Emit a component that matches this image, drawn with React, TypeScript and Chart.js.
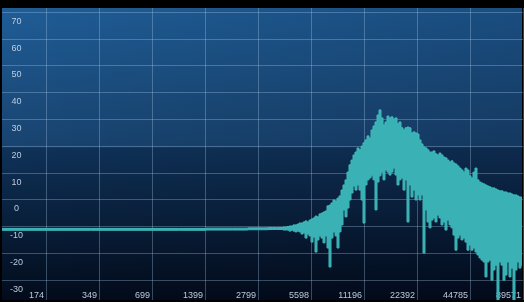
import React, { useEffect, useRef } from "react";
import { Chart, registerables } from "chart.js";

Chart.register(...registerables);

// Axis ticks
const yTickValues = [-30, -20, -10, 0, 10, 20, 30, 40, 50, 60, 70];
const xTickValues = [174.94, 349.89, 699.77, 1399.55, 2799.09, 5598.19, 11196.38, 22392.75, 44785.5, 89571];
const xTickLabels = ["174", "349", "699", "1399", "2799", "5598", "11196", "22392", "44785", "89571"];

// Spectrum: frequency (Hz), upper and lower level (dB)
const freqs = [
  98.4, 1000, 2000, 3000, 3400,
  3732, 3831, 3933, 4037, 4144, 4254, 4366, 4482, 4601, 4723, 4848, 4977, 5108, 5244, 5383, 5525,
  5672, 5822, 5976, 6135, 6297, 6464, 6636, 6811, 6992, 7177, 7367, 7563, 7763, 7969, 8180, 8397,
  8619, 8848, 9082, 9323, 9570, 9823, 10084, 10351, 10625, 10907, 11196, 11493, 11797, 12110, 12431,
  12760, 13098, 13445, 13802, 14167, 14543, 14928, 15324, 15730, 16147, 16575, 17014, 17465, 17927,
  18403, 18890, 19391, 19905, 20432, 20974, 21529, 22100, 22686, 23287, 23904, 24537, 25187, 25855,
  26540, 27243, 27965, 28706, 29467, 30248, 31050, 31872, 32717, 33584, 34474, 35388, 36325, 37288,
  38276, 39290, 40332, 41400, 42497, 43624, 44780, 45966, 47184, 48435, 49718, 51036, 52388, 53777,
  55202, 56665, 58166, 59708, 61290, 62914, 64581, 66293, 68049, 69853, 71704, 73604, 75554, 77557,
  79612, 81722, 83887, 86110, 88392,
];

const upperDb = [
  -10.6, -10.6, -10.5, -10.4, -10.3,
  -10.3, -10.3, -10.1, -10.1, -9.9, -9.7, -9.7, -9.3, -9.3, -9.0, -8.6, -8.6, -8.2, -7.8, -8.2, -7.5,
  -7.1, -6.7, -6.0, -6.3, -5.2, -4.9, -4.5, -4.1, -2.2, -1.9, -1.1, 0.0, -0.4, 0.7, 1.5, 3.7,
  5.6, 7.5, 10.4, 13.1, 14.9, 16.8, 17.9, 19.4, 18.7, 20.1, 21.3, 22.4, 23.9, 23.1, 26.1,
  27.6, 29.1, 31.7, 33.6, 30.6, 28.0, 29.1, 31.3, 30.6, 31.0, 30.2, 30.6, 28.4, 29.1,
  26.9, 26.1, 26.9, 27.2, 26.9, 25.0, 25.4, 25.0, 24.6, 22.4, 20.9, 19.8, 19.4, 18.7,
  17.9, 17.9, 18.3, 17.2, 16.8, 17.5, 16.8, 16.0, 15.7, 14.9, 14.2, 14.6, 13.8, 13.4,
  12.7, 11.9, 11.2, 10.4, 11.9, 11.2, 9.0, 8.2, 10.4, 11.9, 7.5, 6.7, 6.3, 6.0,
  5.6, 5.2, 4.9, 4.5, 4.5, 4.1, 3.7, 3.4, 3.4, 3.0, 3.0, 2.6, 2.6, 2.2,
  1.9, 1.9, 1.5, 1.1, 1.1,
];

const lowerDb = [
  -11.3, -11.3, -11.2, -11.1, -11.0,
  -11.0, -11.0, -11.2, -11.2, -11.2, -11.6, -11.2, -11.6, -11.9, -11.6, -11.9, -12.7, -12.3, -14.2, -12.7, -13.4,
  -15.7, -13.8, -19.4, -14.9, -13.4, -14.2, -16.0, -13.4, -17.9, -25.0, -14.2, -11.9, -13.4, -17.9, -11.9, -9.3,
  -3.7, -6.3, -3.0, 0.0, 2.6, 5.2, 3.7, 5.6, 3.7, 0.0, -8.6, 5.6, 7.5, 8.2, 9.0,
  7.5, -3.7, 6.7, 9.0, 10.4, 7.5, 11.2, 10.4, 9.3, 10.4, 11.9, 9.3, 5.6, 7.5,
  8.2, 3.7, 7.5, -8.2, 5.6, 1.1, 3.7, 0.0, 1.9, 0.0, 1.9, -19.8, -3.7, -8.2,
  -10.4, -7.5, -6.7, -8.2, -5.6, -6.7, -9.3, -8.2, -11.2, -7.5, -9.3, -10.4, -13.1, -18.7,
  -14.2, -13.1, -14.9, -14.2, -15.7, -18.7, -16.8, -18.7, -17.9, -19.4, -20.5, -21.6, -22.4, -23.1,
  -28.7, -23.1, -22.4, -29.9, -26.1, -24.3, -38, -23.1, -24.3, -29.9, -28.0, -23.1, -28.7, -25.4,
  -38, -26.1, -23.1, -25.4, -24.3,
];

const TEAL_LINE = "rgb(64,186,188)";
const TEAL_FILL = "rgb(58,178,181)";
const GRID = "rgba(175,205,235,0.32)";
const LABEL = "rgba(205,216,232,0.92)";

const bgPlugin = {
  id: "spectrumBg",
  beforeDraw(chart: any) {
    const { ctx, chartArea: a, width, height } = chart;
    ctx.save();
    ctx.fillStyle = "#000";
    ctx.fillRect(0, 0, width, height);
    const right = a.right - 1;
    const w = right - a.left;
    const mid = a.top + (a.bottom - a.top) * 0.479;
    let g = ctx.createLinearGradient(0, a.top, 0, mid);
    g.addColorStop(0, "#1f5d97");
    g.addColorStop(1, "#18436f");
    ctx.fillStyle = g;
    ctx.fillRect(a.left, a.top, w, mid - a.top);
    g = ctx.createLinearGradient(0, mid, 0, a.bottom);
    g.addColorStop(0, "#0f3259");
    g.addColorStop(1, "#020b1b");
    ctx.fillStyle = g;
    ctx.fillRect(a.left, mid, w, a.bottom - mid);
    const h = ctx.createLinearGradient(a.left, 0, right, 0);
    h.addColorStop(0, "rgba(0,0,0,0)");
    h.addColorStop(1, "rgba(0,6,24,0.18)");
    ctx.fillStyle = h;
    ctx.fillRect(a.left, a.top, w, a.bottom - a.top);
    ctx.restore();
  },
};

const zeroFit = (scale: any) => {
  scale.paddingLeft = 0;
  scale.paddingRight = 0;
  scale.paddingTop = 0;
  scale.paddingBottom = 0;
  if (scale.isHorizontal()) scale.height = 0;
  else scale.width = 0;
};

export default function App() {
  const ref = useRef<HTMLCanvasElement | null>(null);

  useEffect(() => {
    document.body.style.margin = "0";
    document.body.style.background = "#000";
    const canvas = ref.current;
    if (!canvas) return;
    const font = { family: "'Liberation Sans', Arial, sans-serif", size: 9, lineHeight: 1 };
    const chart = new Chart(canvas, {
      type: "line",
      data: {
        datasets: [
          {
            label: "upper",
            data: freqs.map((f, i) => ({ x: f, y: upperDb[i] })),
            borderColor: TEAL_LINE,
            backgroundColor: TEAL_FILL,
            borderWidth: 1,
            pointRadius: 0,
            stepped: "middle",
            fill: "+1",
          },
          {
            label: "lower",
            data: freqs.map((f, i) => ({ x: f, y: lowerDb[i] })),
            borderColor: TEAL_LINE,
            backgroundColor: TEAL_FILL,
            borderWidth: 1,
            pointRadius: 0,
            stepped: "middle",
            fill: false,
          },
        ],
      },
      options: {
        animation: false,
        responsive: false,
        maintainAspectRatio: false,
        layout: { padding: { top: 8, left: 2, right: 1, bottom: 2 } },
        plugins: {
          legend: { display: false },
          tooltip: { enabled: false },
        },
        scales: {
          x: {
            type: "logarithmic",
            position: "bottom",
            min: 98.35,
            max: 89571,
            z: 1,
            border: { display: false },
            grid: { color: GRID, lineWidth: 1, drawTicks: false },
            afterBuildTicks: (scale: any) => {
              scale.ticks = xTickValues.map((v) => ({ value: v }));
            },
            afterFit: zeroFit,
            ticks: {
              mirror: true,
              align: "end",
              labelOffset: -2,
              padding: 0,
              autoSkip: false,
              maxRotation: 0,
              minRotation: 0,
              color: LABEL,
              font,
              callback: (_v: any, i: number) => xTickLabels[i],
            },
          },
          y: {
            type: "linear",
            min: -37.3,
            max: 71.6,
            z: 1,
            border: { display: false },
            grid: { color: GRID, lineWidth: 1, drawTicks: false },
            afterBuildTicks: (scale: any) => {
              scale.ticks = yTickValues.map((v) => ({ value: v }));
            },
            afterFit: zeroFit,
            ticks: {
              mirror: true,
              crossAlign: "center",
              padding: 8,
              labelOffset: 9,
              autoSkip: false,
              color: LABEL,
              font,
              callback: (v: any) => String(v),
            },
          },
        },
      },
      plugins: [bgPlugin],
    } as any);
    return () => chart.destroy();
  }, []);

  return (
    <div style={{ width: 524, height: 302 }}>
      <canvas ref={ref} width={524} height={302} style={{ display: "block" }} />
    </div>
  );
}
